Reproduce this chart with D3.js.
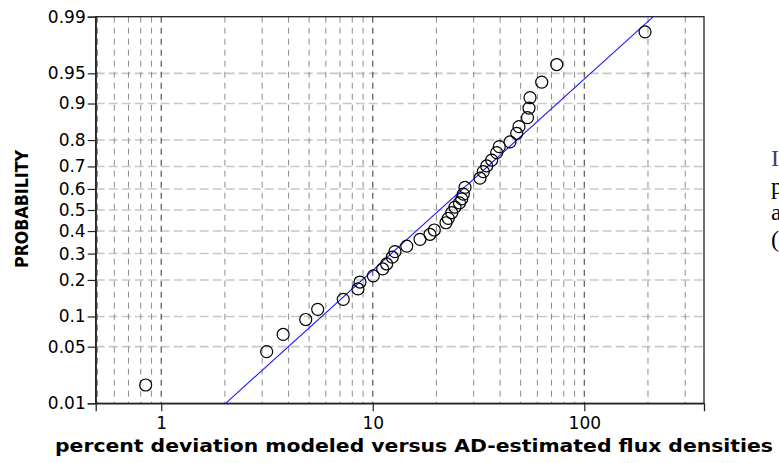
<!DOCTYPE html>
<html>
<head>
<meta charset="utf-8">
<script src="https://cdn.jsdelivr.net/npm/d3@7"></script>
<style>
  html, body { margin: 0; padding: 0; background: #ffffff; overflow: hidden; }
  svg { display: block; }
</style>
</head>
<body>
<svg id="chart" width="779" height="463"></svg>
<script>
// ---- data ----
const deviation = [0.844, 3.15, 3.77, 4.82, 5.49, 7.25, 8.51, 8.70, 10.06, 11.14,
  11.63, 12.37, 12.73, 14.47, 16.72, 18.64, 19.54, 22.19, 22.75, 23.61,
  24.47, 25.70, 26.33, 26.79, 27.29, 32.13, 33.31, 34.56, 36.50, 38.53,
  39.63, 44.55, 47.91, 49.12, 53.88, 54.77, 55.38, 62.90, 74.05, 193.7];
const probability = [0.0176, 0.0441, 0.0671, 0.0938, 0.116, 0.141, 0.171, 0.193, 0.214, 0.239,
  0.258, 0.285, 0.308, 0.332, 0.362, 0.385, 0.405, 0.439, 0.460, 0.487,
  0.514, 0.534, 0.553, 0.576, 0.607, 0.649, 0.678, 0.702, 0.726, 0.755,
  0.777, 0.794, 0.822, 0.842, 0.867, 0.890, 0.912, 0.938, 0.960, 0.984];
const fitDeviation = [2.016, 212];
const fitProbability = [0.01, 0.99];
const yTickValues = [0.01, 0.05, 0.1, 0.2, 0.3, 0.4, 0.5, 0.6, 0.7, 0.8, 0.9, 0.95, 0.99];
const yTickLabels = ["0.01", "0.05", "0.1", "0.2", "0.3", "0.4", "0.5", "0.6", "0.7", "0.8", "0.9", "0.95", "0.99"];
const xTickValues = [1, 10, 100];
const xTickLabels = ["1", "10", "100"];
const xMinorGrid = [0.5, 0.6, 0.7, 0.8, 0.9, 2, 3, 4, 5, 6, 7, 8, 9, 20, 30, 40, 50, 60, 70, 80, 90, 200, 300];
const xTitle = "percent deviation modeled versus AD-estimated flux densities";
const yTitle = "PROBABILITY";
const sideText = ["I", "p", "a", "("];

// inverse standard normal CDF (Acklam) – used as the probability-axis transform
function probit(p) {
  const a = [-3.969683028665376e+01, 2.209460984245205e+02, -2.759285104469687e+02, 1.383577518672690e+02, -3.066479806614716e+01, 2.506628277459239e+00];
  const b = [-5.447609879822406e+01, 1.615858368580409e+02, -1.556989798598866e+02, 6.680131188771972e+01, -1.328068155288572e+01];
  const c = [-7.784894002430293e-03, -3.223964580411365e-01, -2.400758277161838e+00, -2.549732539343734e+00, 4.374664141464968e+00, 2.938163982698783e+00];
  const d = [7.784695709041462e-03, 3.224671290700398e-01, 2.445134137142996e+00, 3.754408661907416e+00];
  const pl = 0.02425, ph = 1 - pl;
  let q, r;
  if (p < pl) { q = Math.sqrt(-2 * Math.log(p)); return (((((c[0]*q+c[1])*q+c[2])*q+c[3])*q+c[4])*q+c[5]) / ((((d[0]*q+d[1])*q+d[2])*q+d[3])*q+1); }
  if (p <= ph) { q = p - 0.5; r = q*q; return (((((a[0]*r+a[1])*r+a[2])*r+a[3])*r+a[4])*r+a[5])*q / (((((b[0]*r+b[1])*r+b[2])*r+b[3])*r+b[4])*r+1); }
  q = Math.sqrt(-2 * Math.log(1 - p)); return -(((((c[0]*q+c[1])*q+c[2])*q+c[3])*q+c[4])*q+c[5]) / ((((d[0]*q+d[1])*q+d[2])*q+d[3])*q+1);
}

const L = 95.7, R = 704, T = 16.7, B = 403.3;
const svg = d3.select("#chart");
const x = d3.scaleLog().domain([0.49, 368]).range([L, R]);
const zScale = d3.scaleLinear().domain([probit(0.01), probit(0.99)]).range([B, T]);
const y = p => zScale(probit(p));

// horizontal grid
svg.append("g").selectAll("line").data(yTickValues.filter(v => v > 0.01 && v < 0.99)).join("line")
  .attr("x1", L).attr("x2", R).attr("y1", d => y(d)).attr("y2", d => y(d))
  .attr("stroke", "#c8c8c8").attr("stroke-width", 1.6).attr("stroke-dasharray", "9,4");

// vertical grid
svg.append("g").selectAll("line").data(xMinorGrid).join("line")
  .attr("x1", d => x(d)).attr("x2", d => x(d)).attr("y1", T).attr("y2", B)
  .attr("stroke", "#8c8c8c").attr("stroke-width", 1).attr("stroke-dasharray", "6,5");
svg.append("g").selectAll("line").data(xTickValues).join("line")
  .attr("x1", d => x(d)).attr("x2", d => x(d)).attr("y1", T).attr("y2", B)
  .attr("stroke", "#555555").attr("stroke-width", 1.2).attr("stroke-dasharray", "6,5");

// frame
svg.append("rect").attr("x", L).attr("y", T).attr("width", R - L).attr("height", B - T)
  .attr("fill", "none").attr("stroke", "#222").attr("stroke-width", 1.3);

// axes
const yAxis = d3.axisLeft(zScale)
  .tickValues(yTickValues.map(probit))
  .tickFormat((d, i) => yTickLabels[i]).tickSize(8).tickPadding(2);
const gy = svg.append("g").attr("transform", `translate(${L},0)`).call(yAxis);
const xAxis = d3.axisBottom(x).tickValues(xTickValues)
  .tickFormat((d, i) => xTickLabels[i]).tickSize(8).tickPadding(6);
const gx = svg.append("g").attr("transform", `translate(0,${B})`).call(xAxis);
[gx, gy].forEach(g => {
  g.select(".domain").attr("stroke", "#222").attr("stroke-width", 1.3);
  g.selectAll(".tick line").attr("stroke", "#222").attr("stroke-width", 1.2);
  g.selectAll(".tick text").attr("font-family", "DejaVu Sans, Verdana, sans-serif")
    .attr("font-size", 17).attr("fill", "#000");
});

// fitted line
svg.append("path")
  .datum(fitDeviation.map((v, i) => [v, fitProbability[i]]))
  .attr("d", d3.line().x(d => x(d[0])).y(d => y(d[1])))
  .attr("fill", "none").attr("stroke", "#1a1aff").attr("stroke-width", 1.1);

// points
svg.append("g").selectAll("circle").data(deviation.map((v, i) => [v, probability[i]])).join("circle")
  .attr("cx", d => x(d[0])).attr("cy", d => y(d[1])).attr("r", 6)
  .attr("fill", "none").attr("stroke", "#000").attr("stroke-width", 1.2);

// titles
svg.append("text").attr("x", 55).attr("y", 452)
  .attr("font-family", "DejaVu Sans, Verdana, sans-serif").attr("font-weight", "bold")
  .attr("font-size", 18).attr("textLength", 718).attr("lengthAdjust", "spacingAndGlyphs")
  .attr("fill", "#000").text(xTitle);
svg.append("text").attr("transform", "translate(28,209) rotate(-90)")
  .attr("text-anchor", "middle")
  .attr("font-family", "DejaVu Sans, Verdana, sans-serif").attr("font-weight", "bold")
  .attr("font-size", 18).attr("textLength", 118).attr("lengthAdjust", "spacingAndGlyphs")
  .attr("fill", "#000").text(yTitle);

// clipped text from surrounding page
const sideY = [166, 194, 220, 247];
svg.append("g").selectAll("text").data(sideText).join("text")
  .attr("x", 771).attr("y", (d, i) => sideY[i])
  .attr("font-family", "Liberation Serif, Times New Roman, serif")
  .attr("font-size", 24).attr("fill", (d, i) => i === 0 ? "#444" : "#000").text(d => d);
</script>
</body>
</html>
